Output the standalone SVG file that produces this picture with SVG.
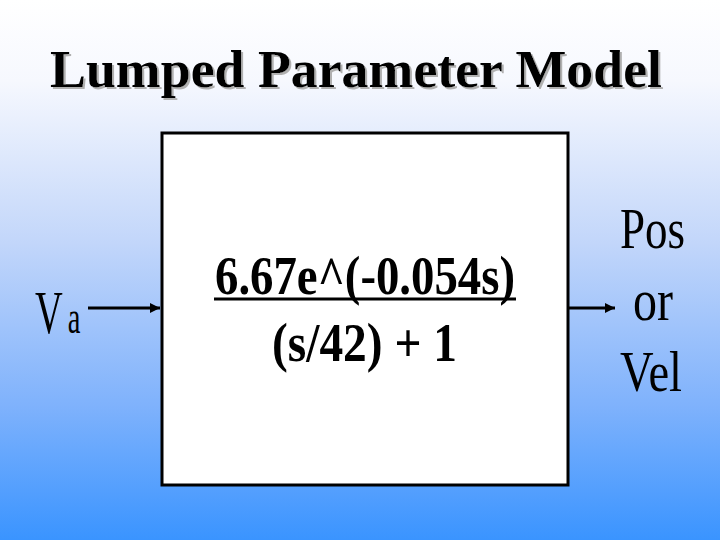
<svg xmlns="http://www.w3.org/2000/svg" width="720" height="540" viewBox="0 0 720 540">
<defs>
<linearGradient id="bg" x1="0" y1="0" x2="0" y2="1">
<stop offset="0" stop-color="#ffffff"/>
<stop offset="0.15" stop-color="#f6f8fe"/>
<stop offset="0.45" stop-color="#c2d6fa"/>
<stop offset="0.75" stop-color="#7fb2fc"/>
<stop offset="1" stop-color="#3a94ff"/>
</linearGradient>
<filter id="sh" x="-5%" y="-20%" width="110%" height="150%">
<feOffset in="SourceAlpha" dx="2" dy="2" result="o"/>
<feFlood flood-color="#b0b0b0"/>
<feComposite in2="o" operator="in" result="s"/>
<feMerge><feMergeNode in="s"/><feMergeNode in="SourceGraphic"/></feMerge>
</filter>
<marker id="ah" viewBox="0 0 10 10" refX="10" refY="5" markerWidth="3.5" markerHeight="3.5" orient="auto" markerUnits="strokeWidth">
<path d="M0,0 L10,5 L0,10 z" fill="#000"/>
</marker>
<style>
.t{font-family:"Liberation Serif","Times New Roman",serif;fill:#000}
.b{font-weight:bold}
.ln{stroke:#000;stroke-width:3;fill:none}
</style>
</defs>
<rect x="0" y="0" width="720" height="540" fill="url(#bg)"/>
<g id="title">
<text class="t b" x="50" y="87" font-size="53" filter="url(#sh)" textLength="612" lengthAdjust="spacingAndGlyphs">Lumped Parameter Model</text>
</g>
<g id="input">
<text class="t" transform="translate(35,333) scale(0.62,1)" font-size="62">V<tspan font-size="46" dx="8">a</tspan></text>
</g>
<g id="block">
<rect x="162" y="133" width="406" height="352" fill="#ffffff" stroke="#000" stroke-width="3"/>
<text class="t b" x="215" y="294" font-size="54" textLength="300" lengthAdjust="spacingAndGlyphs">6.67e^(-0.054s)</text>
<line x1="214" y1="299" x2="516" y2="299" stroke="#000" stroke-width="3"/>
<text class="t b" x="272" y="361" font-size="54" textLength="185" lengthAdjust="spacingAndGlyphs">(s/42) + 1</text>
</g>
<g id="output">
<text class="t" x="620" y="248" font-size="57" textLength="65" lengthAdjust="spacingAndGlyphs">Pos</text>
<text class="t" x="633" y="320" font-size="60" textLength="40" lengthAdjust="spacingAndGlyphs">or</text>
<text class="t" x="620" y="391" font-size="57" textLength="62" lengthAdjust="spacingAndGlyphs">Vel</text>
</g>
<g id="connectors">
<line class="ln" x1="88" y1="308" x2="160" y2="308" marker-end="url(#ah)"/>
<line class="ln" x1="568" y1="308" x2="615" y2="308" marker-end="url(#ah)"/>
</g>
</svg>
